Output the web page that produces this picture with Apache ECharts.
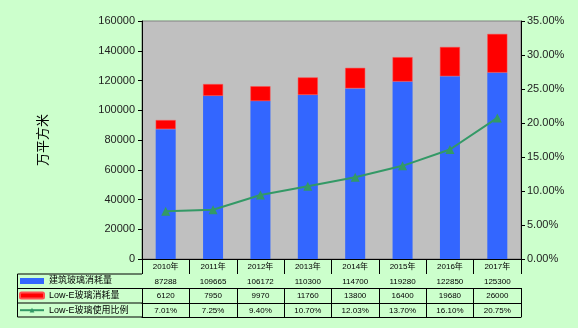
<!DOCTYPE html>
<html><head><meta charset="utf-8">
<script src="https://cdn.jsdelivr.net/npm/echarts@6/dist/echarts.min.js"></script>
<style>html,body{margin:0;padding:0;background:#ccffcc}#c{width:578px;height:328px}</style>
</head><body><div id="c"></div>
<script>
const categories = ['2010年','2011年','2012年','2013年','2014年','2015年','2016年','2017年'];
const buildingGlass = [87288,109665,106172,110300,114700,119280,122850,125300];
const lowEGlass = [6120,7950,9970,11760,13800,16400,19680,26000];
const lowERatio = [7.01,7.25,9.40,10.70,12.03,13.70,16.10,20.75];
const ratioLabels = ['7.01%','7.25%','9.40%','10.70%','12.03%','13.70%','16.10%','20.75%'];
const leftTicks = {min:0,max:160000,interval:20000};
const rightTicks = {min:0,max:35,interval:5};
const seriesNames = ['建筑玻璃消耗量','Low-E玻璃消耗量','Low-E玻璃使用比例'];

const chart = echarts.init(document.getElementById('c'));
const F = 'Arial, "Liberation Sans", "Noto Sans CJK SC", sans-serif';
function tableAxis(offset, arr, showLabel, tickLen){
  return {
    type:'category', data:categories, position:'bottom', offset:offset, gridIndex:0,
    axisLine:{show:true, lineStyle:{color:'#000', width:1}},
    axisTick:{show:tickLen>0, length:tickLen, lineStyle:{color:'#000'}},
    axisLabel:{show:showLabel, margin:4, fontSize:8, color:'#000', fontFamily:F,
      formatter:(v,i)=> arr ? String(arr[i]) : v},
    splitLine:{show:false}
  };
}
const option = {
  backgroundColor:'#ccffcc',
  animation:false,
  grid:{left:142, right:57, top:21, bottom:69, show:true, backgroundColor:'#c0c0c0', borderColor:'#808080', borderWidth:1},
  legend:{
    orient:'vertical', left:19, top:275, padding:0, itemWidth:24, itemHeight:6, itemGap:2.6,
    textStyle:{fontSize:9, color:'#000', fontFamily:F, lineHeight:12},
    data:[
      {name:seriesNames[0], icon:'rect'},
      {name:seriesNames[1], icon:'roundRect'},
      {name:seriesNames[2]}
    ]
  },
  xAxis:[
    tableAxis(0, null, true, 15),
    tableAxis(15, buildingGlass, true, 14),
    tableAxis(29, lowEGlass, true, 15),
    tableAxis(44, ratioLabels, true, 14),
    tableAxis(58, null, false, 0)
  ],
  yAxis:[
    {type:'value', min:leftTicks.min, max:leftTicks.max, interval:leftTicks.interval,
     name:'万平方米', nameLocation:'middle', nameGap:92, nameRotate:90,
     nameTextStyle:{fontSize:13, color:'#000', fontFamily:F},
     axisLine:{show:true, lineStyle:{color:'#000'}},
     axisTick:{show:true, length:4, lineStyle:{color:'#000'}},
     axisLabel:{fontSize:11, color:'#222', margin:7, fontFamily:F, formatter:v=>String(v)},
     splitLine:{show:false}},
    {type:'value', min:rightTicks.min, max:rightTicks.max, interval:rightTicks.interval, position:'right',
     axisLine:{show:true, lineStyle:{color:'#000'}},
     axisTick:{show:true, length:4, lineStyle:{color:'#000'}},
     axisLabel:{fontSize:11, color:'#222', margin:6, fontFamily:F, formatter:v=>v.toFixed(2)+'%'},
     splitLine:{show:false}}
  ],
  series:[
    {name:seriesNames[0], type:'bar', stack:'a', data:buildingGlass, barWidth:20,
     itemStyle:{color:'#3366ff'}},
    {name:seriesNames[1], type:'bar', stack:'a', data:lowEGlass, barWidth:20,
     itemStyle:{color:'#ff0000', borderColor:'#ff5050', borderWidth:0.5}},
    {name:seriesNames[2], type:'line', yAxisIndex:1, data:lowERatio,
     symbol:'triangle', symbolSize:9, lineStyle:{color:'#339966', width:2},
     itemStyle:{color:'#339966'}}
  ],
  graphic:[
    {type:'polyline', shape:{points:[[142,274],[17.5,274],[17.5,317],[142,317]]}, style:{stroke:'#000', fill:null, lineWidth:1}},
    {type:'line', shape:{x1:17.5,y1:288.5,x2:142,y2:288.5}, style:{stroke:'#000', lineWidth:1}},
    {type:'line', shape:{x1:17.5,y1:303,x2:142,y2:303}, style:{stroke:'#000', lineWidth:1}}
  ]
};
chart.setOption(option);
</script></body></html>
